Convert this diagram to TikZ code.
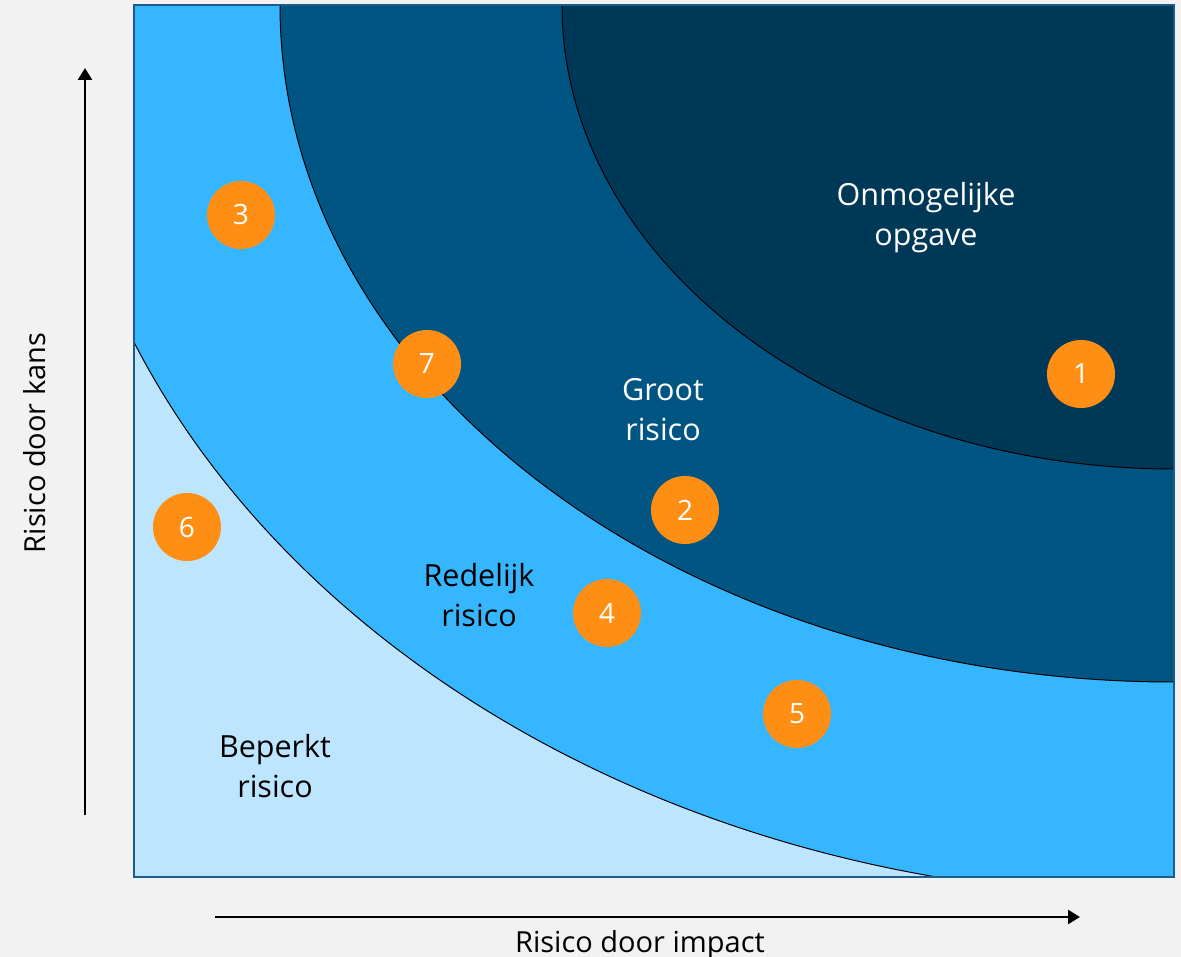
\documentclass[tikz,border=0pt]{standalone}
\usepackage{fontspec}
\setmainfont{Open Sans}
\usetikzlibrary{arrows.meta}
\definecolor{bgc}{HTML}{F2F2F2}
\definecolor{zoneA}{HTML}{BDE6FE}
\definecolor{zoneB}{HTML}{35B6FF}
\definecolor{zoneC}{HTML}{005583}
\definecolor{zoneD}{HTML}{003857}
\definecolor{boxc}{HTML}{1A5C8A}
\definecolor{orng}{HTML}{FF8F14}
\tikzset{
  numdot/.style={circle, fill=orng, draw=none, minimum size=68pt, inner sep=0pt, text=white, font=\fontsize{28}{32}\selectfont},
  zonelabel/.style={align=center, font=\fontsize{30.5}{40}\selectfont, inner sep=0pt},
  axisarrow/.style={line width=2.5pt, draw=black, -{Triangle[length=12pt,width=14pt]}},
  zoneline/.style={draw=black, line width=1pt},
  axislabel/.style={font=\fontsize{29}{32}\selectfont, inner sep=0pt}
}
\begin{document}
\begin{tikzpicture}[x=1pt,y=-1pt]
\useasboundingbox (0,0) rectangle (1181,957);
\fill[bgc] (0,0) rectangle (1181,957);
\coordinate (bl) at (134,877);
\coordinate (tr) at (1174,5);
\fill[zoneA] (bl) rectangle (tr);
\begin{scope}
\clip (bl) rectangle (tr);
\filldraw[fill=zoneB, zoneline] (tr) ellipse [x radius=1123pt, y radius=892pt];
\filldraw[fill=zoneC, zoneline] (tr) ellipse [x radius=894pt, y radius=677pt];
\filldraw[fill=zoneD, zoneline] (tr) ellipse [x radius=612pt, y radius=464pt];
\end{scope}
\draw[boxc, line width=2pt] (bl) rectangle (tr);

\node[zonelabel, text=white] (lD) at (926,218) {Onmogelijke\\opgave};
\node[zonelabel, text=white] (lC) at (663,410) {Groot\\risico};
\node[zonelabel, text=black] (lB) at (479,595) {Redelijk\\risico};
\node[zonelabel, text=black] (lA) at (275,766) {Beperkt\\risico};

\node[numdot] (n1) at (1081,374) {1};
\node[numdot] (n2) at (685,510) {2};
\node[numdot] (n3) at (241,215) {3};
\node[numdot] (n4) at (607,613) {4};
\node[numdot] (n5) at (797,714) {5};
\node[numdot] (n6) at (187,527) {6};
\node[numdot] (n7) at (427,364) {7};

\coordinate (ky0) at (85,815);
\coordinate (ky1) at (85,68);
\draw[axisarrow] (ky0) -- (ky1);
\coordinate (kx0) at (215,917);
\coordinate (kx1) at (1080,917);
\draw[axisarrow] (kx0) -- (kx1);
\node[axislabel, rotate=90] (ty) at (35,443) {Risico door kans};
\node[axislabel, anchor=base] (tx) at (640,952) {Risico door impact};
\end{tikzpicture}
\end{document}
